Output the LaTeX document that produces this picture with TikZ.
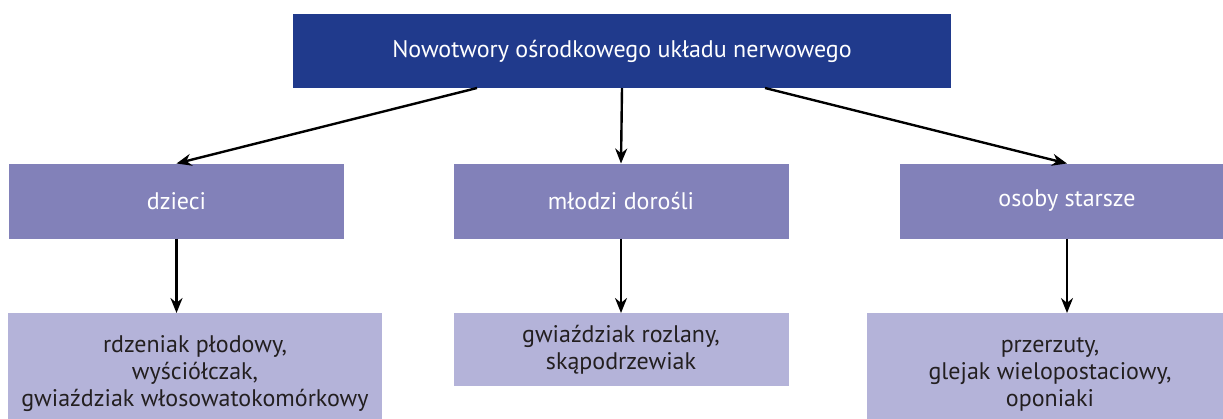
\documentclass[tikz,border=0pt]{standalone}
\usepackage{fontspec}
\setmainfont{PT Sans}
\usetikzlibrary{arrows.meta}
\definecolor{ciemny}{HTML}{203A8C}
\definecolor{sredni}{HTML}{8281B9}
\definecolor{jasny}{HTML}{B4B3D9}
\definecolor{tekst}{HTML}{231F20}
\begin{document}
\begin{tikzpicture}[font=\fontsize{24}{27}\selectfont, x=1pt, y=-1pt,
  pudlo/.style={rectangle, inner sep=0pt, outer sep=0pt, align=center},
  grupa/.style={pudlo, fill=sredni, text=white, minimum width=335pt, minimum height=75pt},
  lista/.style={pudlo, fill=jasny, text=tekst},
  strzalka/.style={-{Stealth[length=15pt,width=12pt]}, line width=2.4pt}]

\useasboundingbox (0,0) rectangle (1223,418);

% naglowek
\node[pudlo, fill=ciemny, text=white, minimum width=658pt, minimum height=74pt] (guzy) at (622,51) {Nowotwory ośrodkowego układu nerwowego};

% grupy wiekowe
\node[grupa] (dzieci) at (176.5,201) {dzieci};
\node[grupa] (mlodzi) at (621,201) {młodzi dorośli};
\node[grupa] (starsi) at (1067,201) {osoby starsze};

% nowotwory w grupach
\node[lista, minimum width=374pt, minimum height=122pt] (dzieciTyp) at (195,374) {rdzeniak płodowy,\\wyściółczak,\\gwiaździak włosowatokomórkowy};
\node[lista, minimum width=335pt, minimum height=73pt] (mlodziTyp) at (621,349.5) {gwiaździak rozlany,\\skąpodrzewiak};
\node[lista, minimum width=366pt, minimum height=122pt] (starsiTyp) at (1050,374) {przerzuty,\\glejak wielopostaciowy,\\oponiaki};

% strzalki
\draw[strzalka] ([xshift=-145pt]guzy.south) -- (dzieci.north);
\draw[strzalka] (guzy.south) -- (mlodzi.north);
\draw[strzalka] ([xshift=143pt]guzy.south) -- (starsi.north);
\draw[strzalka] (dzieci.south) -- (dzieci.south |- dzieciTyp.north);
\draw[strzalka] (mlodzi.south) -- (mlodziTyp.north);
\draw[strzalka] (starsi.south) -- (starsi.south |- starsiTyp.north);

\end{tikzpicture}
\end{document}
